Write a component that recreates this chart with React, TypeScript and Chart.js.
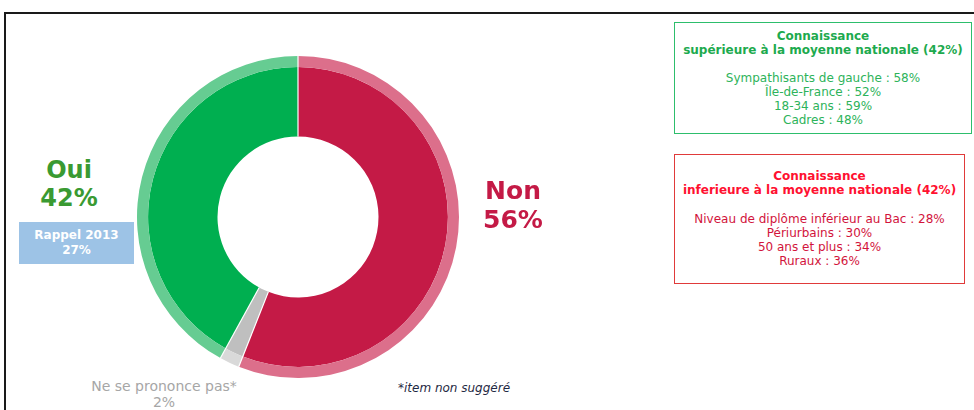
import React, { useEffect, useRef } from "react";
import { Chart, registerables } from "chart.js";

Chart.register(...registerables);

const categories = ["Non", "Ne se prononce pas*", "Oui"];
const values = [56, 2, 42];
const innerColors = ["#C41A46", "#BFBFBF", "#00AF50"];
const outerColors = ["#DC6F8B", "#D9D9D9", "#66CC92"];

const greenTitle = ["Connaissance", "supérieure à la moyenne nationale (42%)"];
const greenLines = ["Sympathisants de gauche : 58%", "Île-de-France : 52%", "18-34 ans : 59%", "Cadres : 48%"];
const redTitle = ["Connaissance", "inferieure à la moyenne nationale (42%)"];
const redLines = ["Niveau de diplôme inférieur au Bac : 28%", "Périurbains : 30%", "50 ans et plus : 34%", "Ruraux : 36%"];

const separatorPlugin = {
  id: "separators",
  afterDatasetsDraw(chart: any) {
    const ctx = chart.ctx;
    const outerMeta = chart.getDatasetMeta(0);
    const innerMeta = chart.getDatasetMeta(1);
    ctx.save();
    ctx.strokeStyle = "#ffffff";
    ctx.lineWidth = 1.2;
    innerMeta.data.forEach((arc: any, i: number) => {
      const o = outerMeta.data[i];
      const a = arc.startAngle;
      const r0 = arc.innerRadius;
      const r1 = o.outerRadius;
      ctx.beginPath();
      ctx.moveTo(arc.x + Math.cos(a) * r0, arc.y + Math.sin(a) * r0);
      ctx.lineTo(arc.x + Math.cos(a) * r1, arc.y + Math.sin(a) * r1);
      ctx.stroke();
    });
    ctx.restore();
  },
};

function Donut() {
  const ref = useRef<HTMLCanvasElement>(null);
  useEffect(() => {
    const chart = new Chart(ref.current!, {
      type: "doughnut",
      data: {
        labels: categories,
        datasets: [
          { data: values, backgroundColor: outerColors, borderWidth: 0, weight: 11 },
          { data: values, backgroundColor: innerColors, borderWidth: 0, weight: 69 },
        ],
      },
      options: {
        animation: false,
        responsive: true,
        maintainAspectRatio: false,
        cutout: "50%",
        rotation: 0,
        layout: { padding: 0 },
        plugins: { legend: { display: false }, tooltip: { enabled: false } },
      },
      plugins: [separatorPlugin],
    });
    return () => chart.destroy();
  }, []);
  return <canvas ref={ref} />;
}

const font = "Verdana, 'DejaVu Sans', sans-serif";

export default function App() {
  return (
    <div style={{ position: "fixed", left: 0, top: 0, width: 974, height: 410, overflow: "hidden", background: "#fff", fontFamily: font }}>
      <div style={{ position: "absolute", left: 4, top: 12, width: 1000, height: 500, border: "2px solid #1a1a1a" }} />
      <div style={{ position: "absolute", left: 137, top: 56, width: 322, height: 322 }}>
        <Donut />
      </div>
      <div style={{ position: "absolute", left: 9, top: 156, width: 120, textAlign: "center", color: "#3A9A32", fontWeight: "bold", fontSize: 24, lineHeight: "28px" }}>
        Oui<br />42%
      </div>
      <div style={{ position: "absolute", left: 19, top: 222, width: 115, height: 42, background: "#9DC3E6", color: "#fff", fontWeight: "bold", fontSize: 12, lineHeight: "15px", textAlign: "center", boxSizing: "border-box", paddingTop: 6 }}>
        Rappel 2013<br />27%
      </div>
      <div style={{ position: "absolute", left: 453, top: 176, width: 120, textAlign: "center", color: "#C41A46", fontWeight: "bold", fontSize: 25, lineHeight: "29px" }}>
        Non<br />56%
      </div>
      <div style={{ position: "absolute", left: 64, top: 378, width: 200, textAlign: "center", color: "#A6A6A6", fontSize: 14, lineHeight: "16px" }}>
        Ne se prononce pas*<br />2%
      </div>
      <div style={{ position: "absolute", left: 374, top: 381, width: 160, textAlign: "center", color: "#1F2A44", fontStyle: "italic", fontSize: 12, lineHeight: "14px" }}>
        *item non suggéré
      </div>
      <div style={{ position: "absolute", left: 674, top: 22, width: 298, height: 112, boxSizing: "border-box", border: "1.5px solid #2DBE6C", textAlign: "center", fontSize: 12, lineHeight: "14px", paddingTop: 6 }}>
        <div style={{ color: "#1DAA4E", fontWeight: "bold" }}>
          {greenTitle.map((t, i) => <div key={i}>{t}</div>)}
        </div>
        <div style={{ height: 14 }} />
        <div style={{ color: "#2DB35A" }}>
          {greenLines.map((t, i) => <div key={i}>{t}</div>)}
        </div>
      </div>
      <div style={{ position: "absolute", left: 674, top: 154, width: 291, height: 130, boxSizing: "border-box", border: "1.5px solid #E03A3A", textAlign: "center", fontSize: 12, lineHeight: "14.3px", paddingTop: 14 }}>
        <div style={{ color: "#FF1030", fontWeight: "bold" }}>
          {redTitle.map((t, i) => <div key={i}>{t}</div>)}
        </div>
        <div style={{ height: 14 }} />
        <div style={{ color: "#D2143C" }}>
          {redLines.map((t, i) => <div key={i}>{t}</div>)}
        </div>
      </div>
    </div>
  );
}
